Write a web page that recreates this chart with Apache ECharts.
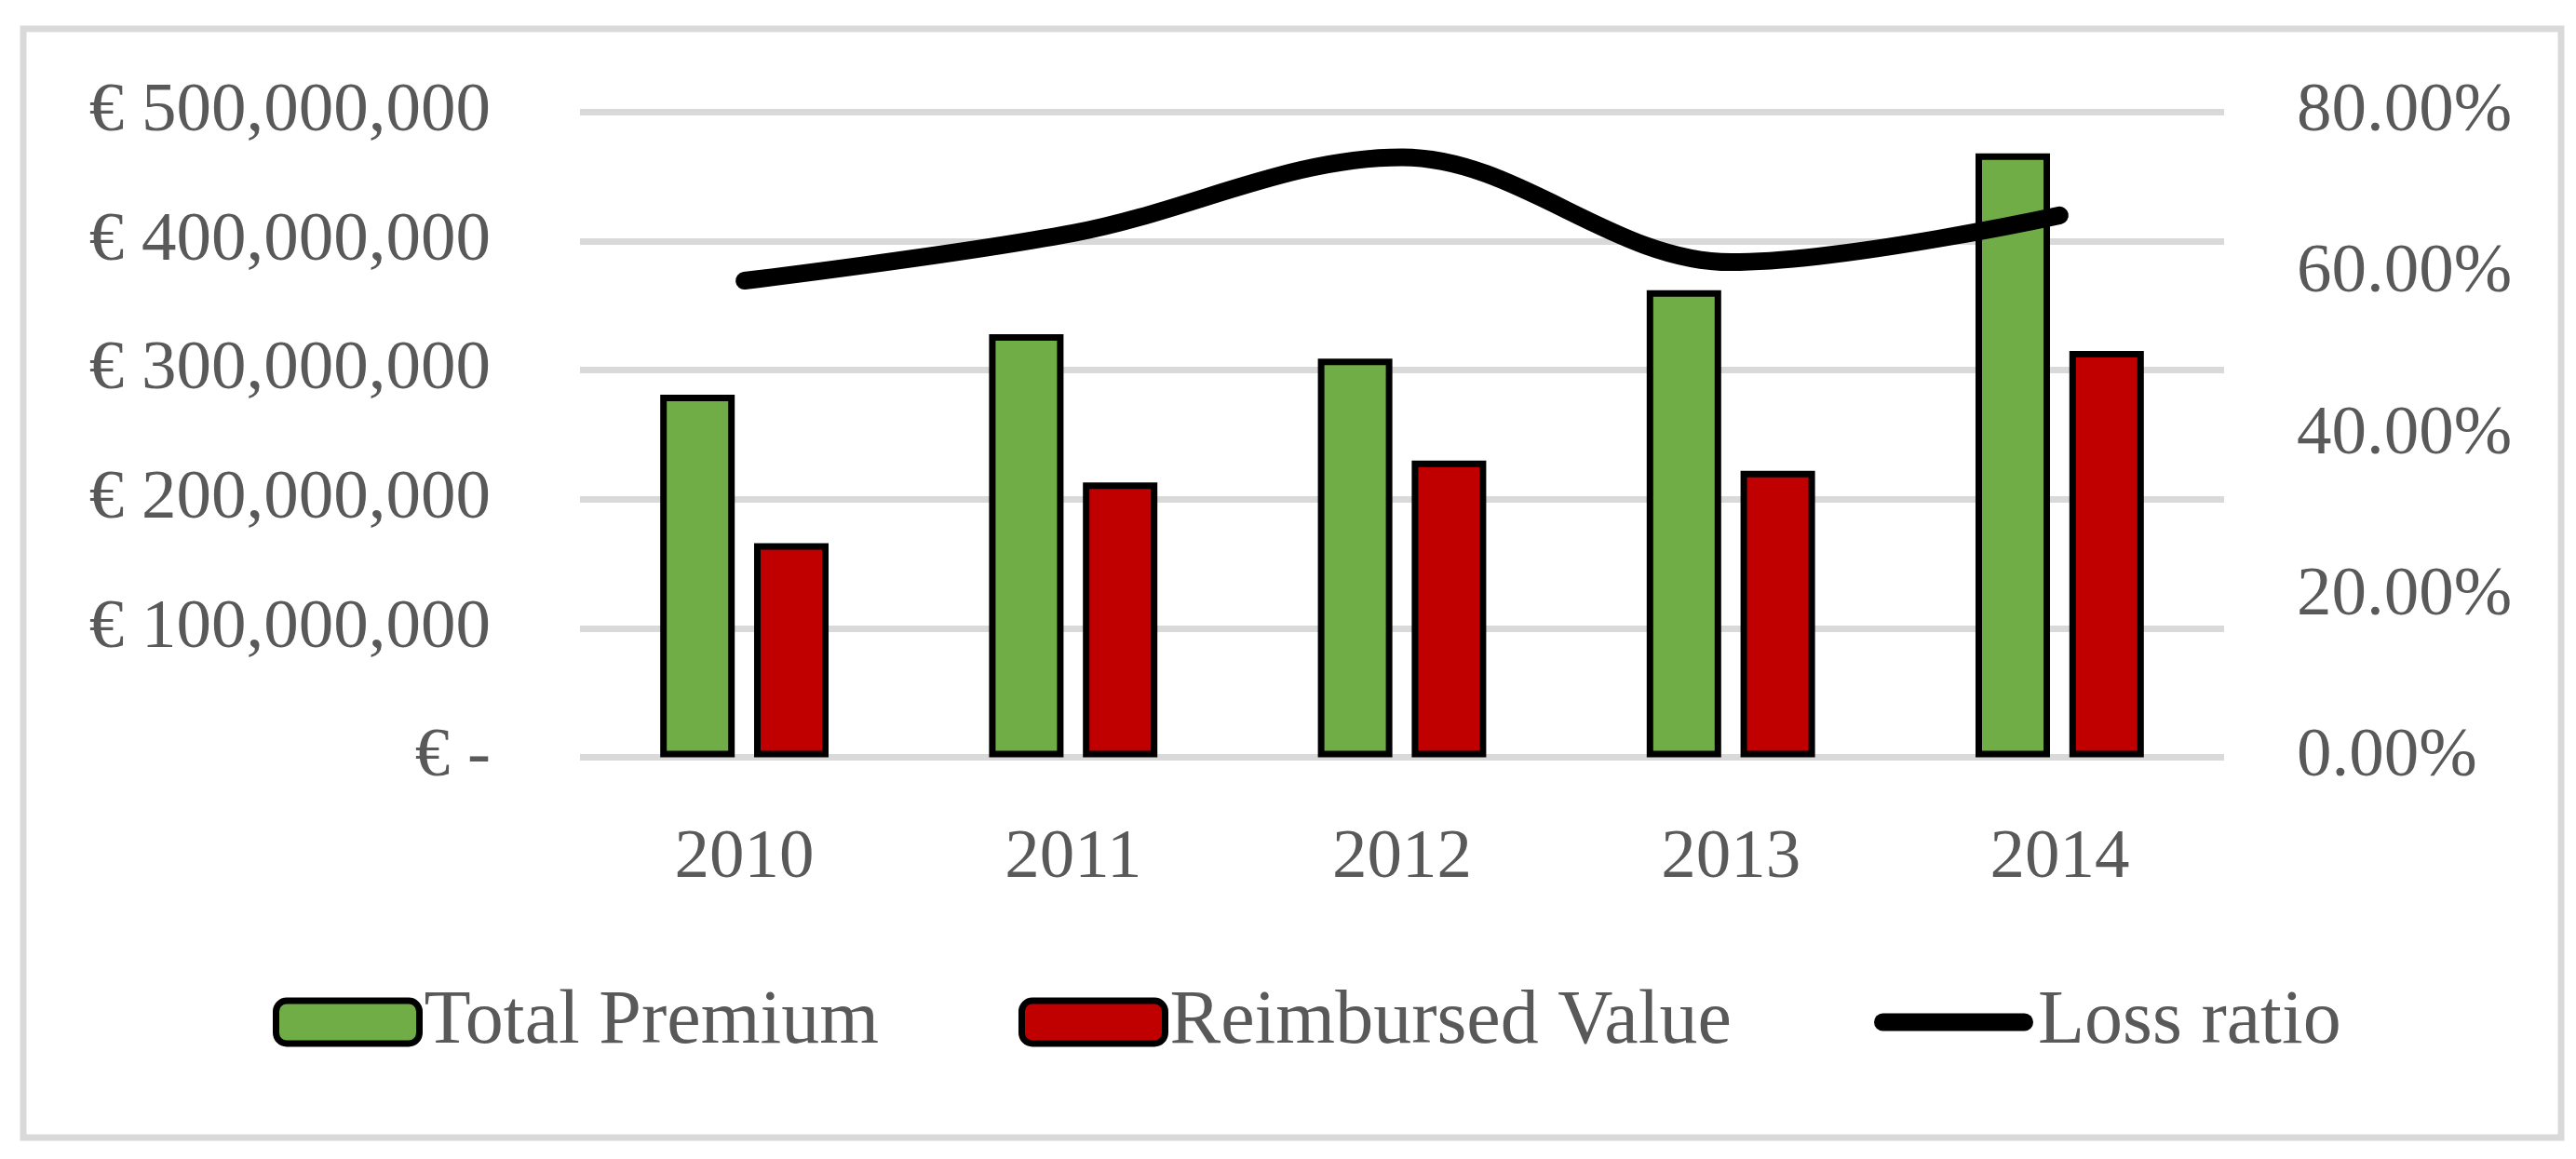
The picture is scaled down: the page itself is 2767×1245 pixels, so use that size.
<!DOCTYPE html>
<html>
<head>
<meta charset="utf-8">
<script src="https://cdn.jsdelivr.net/npm/echarts@6/dist/echarts.min.js"></script>
<style>
html,body{margin:0;padding:0;background:#fff;}
#chart{width:2767px;height:1245px;}
</style>
</head>
<body>
<div id="chart"></div>
<script>
var categories = ['2010', '2011', '2012', '2013', '2014'];
var totalPremium = [281000000, 328000000, 309000000, 362000000, 468000000];
var reimbursedValue = [166000000, 213000000, 230000000, 222000000, 315000000];
var lossRatio = [59.1, 65.0, 74.4, 61.4, 67.2];
var leftTicks = [0, 100000000, 200000000, 300000000, 400000000, 500000000];
var rightTicks = [0, 20, 40, 60, 80];

var FONT = 'Liberation Serif';
var TXT = '#595959';

var chart = echarts.init(document.getElementById('chart'));
chart.setOption({
  backgroundColor: '#ffffff',
  animation: false,
  graphic: [{
    type: 'rect',
    shape: { x: 25, y: 31, width: 2726, height: 1191 },
    style: { fill: 'none', stroke: '#d9d9d9', lineWidth: 7 },
    silent: true
  }],
  grid: { left: 623, right: 378, top: 120.5, bottom: 431.5, containLabel: false },
  legend: [{
    data: ['Total Premium', 'Reimbursed Value'],
    left: 288,
    top: 1052,
    itemWidth: 154,
    itemHeight: 46,
    itemGap: 150,
    itemStyle: { borderWidth: 7, borderColor: '#000' },
    textStyle: { fontFamily: FONT, fontSize: 82, color: TXT }
  }, {
    data: [{ name: 'Loss ratio', icon: 'path://M9.5,0 L161.5,0 A9.5,9.5 0 0 1 161.5,19 L9.5,19 A9.5,9.5 0 0 1 9.5,0 Z' }],
    left: 2008,
    top: 1052,
    itemWidth: 171,
    itemHeight: 19,
    itemStyle: { borderWidth: 0 },
    textStyle: { fontFamily: FONT, fontSize: 82, color: TXT }
  }],
  xAxis: {
    type: 'category',
    data: categories,
    axisLine: { show: false },
    axisTick: { show: false },
    axisLabel: { fontFamily: FONT, fontSize: 75, color: TXT, margin: 71 }
  },
  yAxis: [{
    type: 'value',
    min: leftTicks[0],
    max: leftTicks[leftTicks.length - 1],
    interval: 100000000,
    axisLine: { show: false },
    axisTick: { show: false },
    splitLine: { show: true, lineStyle: { color: '#d9d9d9', width: 7 } },
    axisLabel: {
      fontFamily: FONT, fontSize: 75, color: TXT, margin: 96,
      formatter: function (v) { return v === 0 ? '€ -' : '€ ' + v.toLocaleString('en-US'); }
    }
  }, {
    type: 'value',
    min: rightTicks[0],
    max: rightTicks[rightTicks.length - 1],
    interval: 20,
    axisLine: { show: false },
    axisTick: { show: false },
    splitLine: { show: false },
    axisLabel: {
      fontFamily: FONT, fontSize: 75, color: TXT, margin: 78,
      formatter: function (v) { return v.toFixed(2) + '%'; }
    }
  }],
  series: [{
    name: 'Total Premium',
    type: 'bar',
    data: totalPremium,
    barWidth: 80,
    barGap: '26%',
    itemStyle: { color: '#70AD47', borderColor: '#000', borderWidth: 7 }
  }, {
    name: 'Reimbursed Value',
    type: 'bar',
    data: reimbursedValue,
    barWidth: 80,
    barGap: '26%',
    itemStyle: { color: '#C00000', borderColor: '#000', borderWidth: 7 }
  }, {
    name: 'Loss ratio',
    type: 'line',
    yAxisIndex: 1,
    data: lossRatio,
    smooth: 0.35,
    symbol: 'none',
    color: '#000',
    lineStyle: { color: '#000', width: 19, cap: 'round', join: 'round' },
    itemStyle: { color: '#000' },
    z: 5
  }]
});
</script>
</body>
</html>
